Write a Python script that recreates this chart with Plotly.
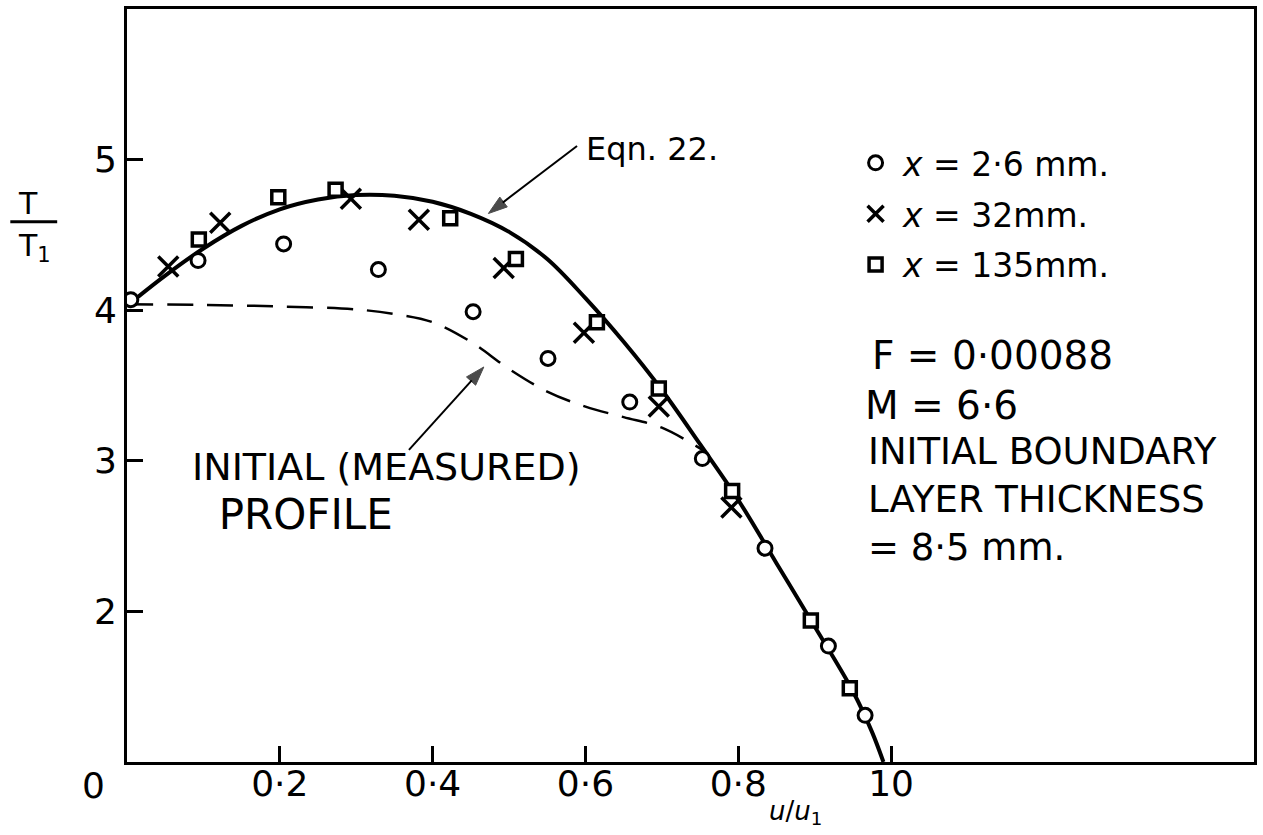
import plotly.graph_objects as go

# Measured temperature ratio T/T1 against u/u1 at three stations
circ_x = [0.005, 0.093, 0.205, 0.329, 0.453, 0.551, 0.658, 0.753, 0.835, 0.918, 0.966]
circ_y = [4.07, 4.33, 4.44, 4.27, 3.99, 3.68, 3.39, 3.015, 2.42, 1.77, 1.31]

cross_x = [0.054, 0.122, 0.293, 0.382, 0.493, 0.598, 0.696, 0.791]
cross_y = [4.29, 4.58, 4.74, 4.60, 4.28, 3.85, 3.36, 2.69]

sq_x = [0.094, 0.198, 0.273, 0.423, 0.509, 0.615, 0.696, 0.792, 0.895, 0.946]
sq_y = [4.47, 4.75, 4.80, 4.61, 4.34, 3.92, 3.48, 2.80, 1.94, 1.49]

# Eqn. 22 prediction
eq_x = [0.0, 0.05, 0.1, 0.15, 0.2, 0.25, 0.3, 0.35, 0.4, 0.45, 0.5, 0.55,
        0.6, 0.65, 0.7, 0.75, 0.8, 0.85, 0.9, 0.95, 0.975, 0.99]
eq_y = [4.03, 4.23, 4.41, 4.56, 4.67, 4.735, 4.765, 4.76, 4.72, 4.64, 4.52, 4.34,
        4.08, 3.79, 3.47, 3.11, 2.74, 2.32, 1.90, 1.47, 1.20, 1.0]

# Initial (measured) profile
init_x = [0.0, 0.1, 0.2, 0.3, 0.35, 0.4, 0.45, 0.5, 0.55, 0.6, 0.65, 0.7, 0.757]
init_y = [4.04, 4.035, 4.025, 4.005, 3.975, 3.92, 3.79, 3.61, 3.46, 3.36, 3.29, 3.22, 3.06]

# Pointer arrows (tail, head) for the two curve labels
eqn_arrow_x = [0.589, 0.473]
eqn_arrow_y = [5.09, 4.642]
init_arrow_x = [0.369, 0.467]
init_arrow_y = [3.073, 3.623]

x_tickvals = [0.2, 0.4, 0.6, 0.8, 1.0]
x_ticktext = ["0·2", "0·4", "0·6", "0·8", "10"]
y_tickvals = [2, 3, 4, 5]
y_ticktext = ["2", "3", "4", "5"]

legend_names = ["<i>x</i> = 2·6 mm.", "<i>x</i> = 32mm.", "<i>x</i> = 135mm."]
param_lines = ["F = 0·00088", "M = 6·6"]
thickness_lines = ["INITIAL BOUNDARY", "LAYER THICKNESS", "= 8·5 mm."]

FONT = "DejaVu Sans"
INK = "black"

fig = go.Figure()

fig.add_trace(go.Scatter(
    x=init_x, y=init_y, mode="lines", showlegend=False,
    line=dict(color=INK, width=2.5, dash="26px,14px", shape="spline"),
))
fig.add_trace(go.Scatter(
    x=eq_x, y=eq_y, mode="lines", showlegend=False,
    line=dict(color=INK, width=4, shape="spline"),
))

for ax_, ay_ in ((eqn_arrow_x, eqn_arrow_y), (init_arrow_x, init_arrow_y)):
    fig.add_trace(go.Scatter(
        x=ax_, y=ay_, mode="lines+markers", showlegend=False, hoverinfo="skip",
        line=dict(color=INK, width=2),
        marker=dict(symbol=["circle", "arrow"], size=[0, 20], color=INK,
                    angleref="previous", line=dict(color=INK, width=1)),
    ))

fig.add_trace(go.Scatter(
    x=circ_x, y=circ_y, mode="markers", name=legend_names[0], legendgroup="a",
    marker=dict(symbol="circle", size=14, color="white", line=dict(color=INK, width=3)),
))
fig.add_trace(go.Scatter(
    x=cross_x, y=cross_y, mode="markers", name=legend_names[1], legendgroup="b",
    marker=dict(symbol="x-thin", size=20, color=INK, line=dict(color=INK, width=3.5)),
))
fig.add_trace(go.Scatter(
    x=sq_x, y=sq_y, mode="markers", name=legend_names[2], legendgroup="c",
    marker=dict(symbol="square", size=13, color="white", line=dict(color=INK, width=3.5)),
))

NB = "\u00a0"
annotations = [
    # zero label sits left of the origin
    dict(x=0, y=0, xref="x", yref="paper", text="0", showarrow=False,
         xanchor="center", yanchor="middle", xshift=-34, yshift=-23,
         font=dict(size=36, color=INK, family=FONT)),
    dict(x=0.598, y=5.07, xref="x", yref="y", text="Eqn. 22.", showarrow=False,
         xanchor="left", yanchor="middle", font=dict(size=32, color=INK, family=FONT)),
    dict(x=0.082, y=2.79, xref="x", yref="y",
         text="INITIAL (MEASURED)<br><span style='font-size:42px'>" + NB * 2 + "PROFILE</span>",
         showarrow=False, align="left", xanchor="left", yanchor="middle",
         font=dict(size=38, color=INK, family=FONT)),
    # axis titles
    dict(x=0, y=0, xref="paper", yref="paper", text="<i>u</i>/<i>u</i><sub>1</sub>",
         showarrow=False, xanchor="center", yanchor="middle",
         xshift=795 - 127, yshift=-50, font=dict(size=26, color=INK, family=FONT)),
    dict(x=0, y=1, xref="paper", yref="paper", text="T", showarrow=False,
         xanchor="center", yanchor="middle", xshift=28 - 127, yshift=-(202 - 8),
         font=dict(size=30, color=INK, family=FONT)),
    dict(x=0, y=1, xref="paper", yref="paper", text="T<sub>1</sub>", showarrow=False,
         xanchor="center", yanchor="middle", xshift=34 - 127, yshift=-(246 - 8),
         font=dict(size=30, color=INK, family=FONT)),
]

for txt, py, px in zip(param_lines, [354, 404], [870, 863]):
    annotations.append(dict(
        x=0, y=1, xref="paper", yref="paper", text=txt, showarrow=False,
        xanchor="left", yanchor="middle", xshift=px - 127, yshift=-(py - 8),
        font=dict(size=39, color=INK, family=FONT)))

annotations.append(dict(
    x=0, y=1, xref="paper", yref="paper", text="<br>".join(thickness_lines),
    showarrow=False, align="left", xanchor="left", yanchor="middle",
    xshift=866 - 127, yshift=-(498 - 8), font=dict(size=37, color=INK, family=FONT)))

fig.update_layout(
    width=1263, height=835,
    margin=dict(l=127, r=6, t=8, b=73),
    paper_bgcolor="white", plot_bgcolor="white",
    font=dict(family=FONT, color=INK),
    annotations=annotations,
    shapes=[dict(type="line", xref="paper", yref="paper",
                 x0=(10 - 127) / 1130, x1=(57 - 127) / 1130,
                 y0=(762 - 221) / 754, y1=(762 - 221) / 754,
                 line=dict(color=INK, width=3))],
    legend=dict(x=(850 - 127) / 1130, y=(762 - 134) / 754, xanchor="left", yanchor="top",
                bgcolor="rgba(0,0,0,0)", borderwidth=0, tracegroupgap=5, itemwidth=45,
                font=dict(size=33, color=INK, family=FONT), itemsizing="trace"),
    xaxis=dict(range=[0, 1.475], tickvals=x_tickvals, ticktext=x_ticktext,
               ticks="inside", ticklen=16, tickwidth=2.5, tickcolor=INK,
               ticklabelstandoff=-12,
               showline=True, linewidth=3, linecolor=INK, mirror=True,
               showgrid=False, zeroline=False,
               tickfont=dict(size=36, color=INK, family=FONT)),
    yaxis=dict(range=[1, 6], tickvals=y_tickvals, ticktext=y_ticktext,
               ticks="inside", ticklen=16, tickwidth=2.5, tickcolor=INK,
               showline=True, linewidth=3, linecolor=INK, mirror=True,
               showgrid=False, zeroline=False,
               tickfont=dict(size=36, color=INK, family=FONT)),
)

fig.write_html("out.html")
